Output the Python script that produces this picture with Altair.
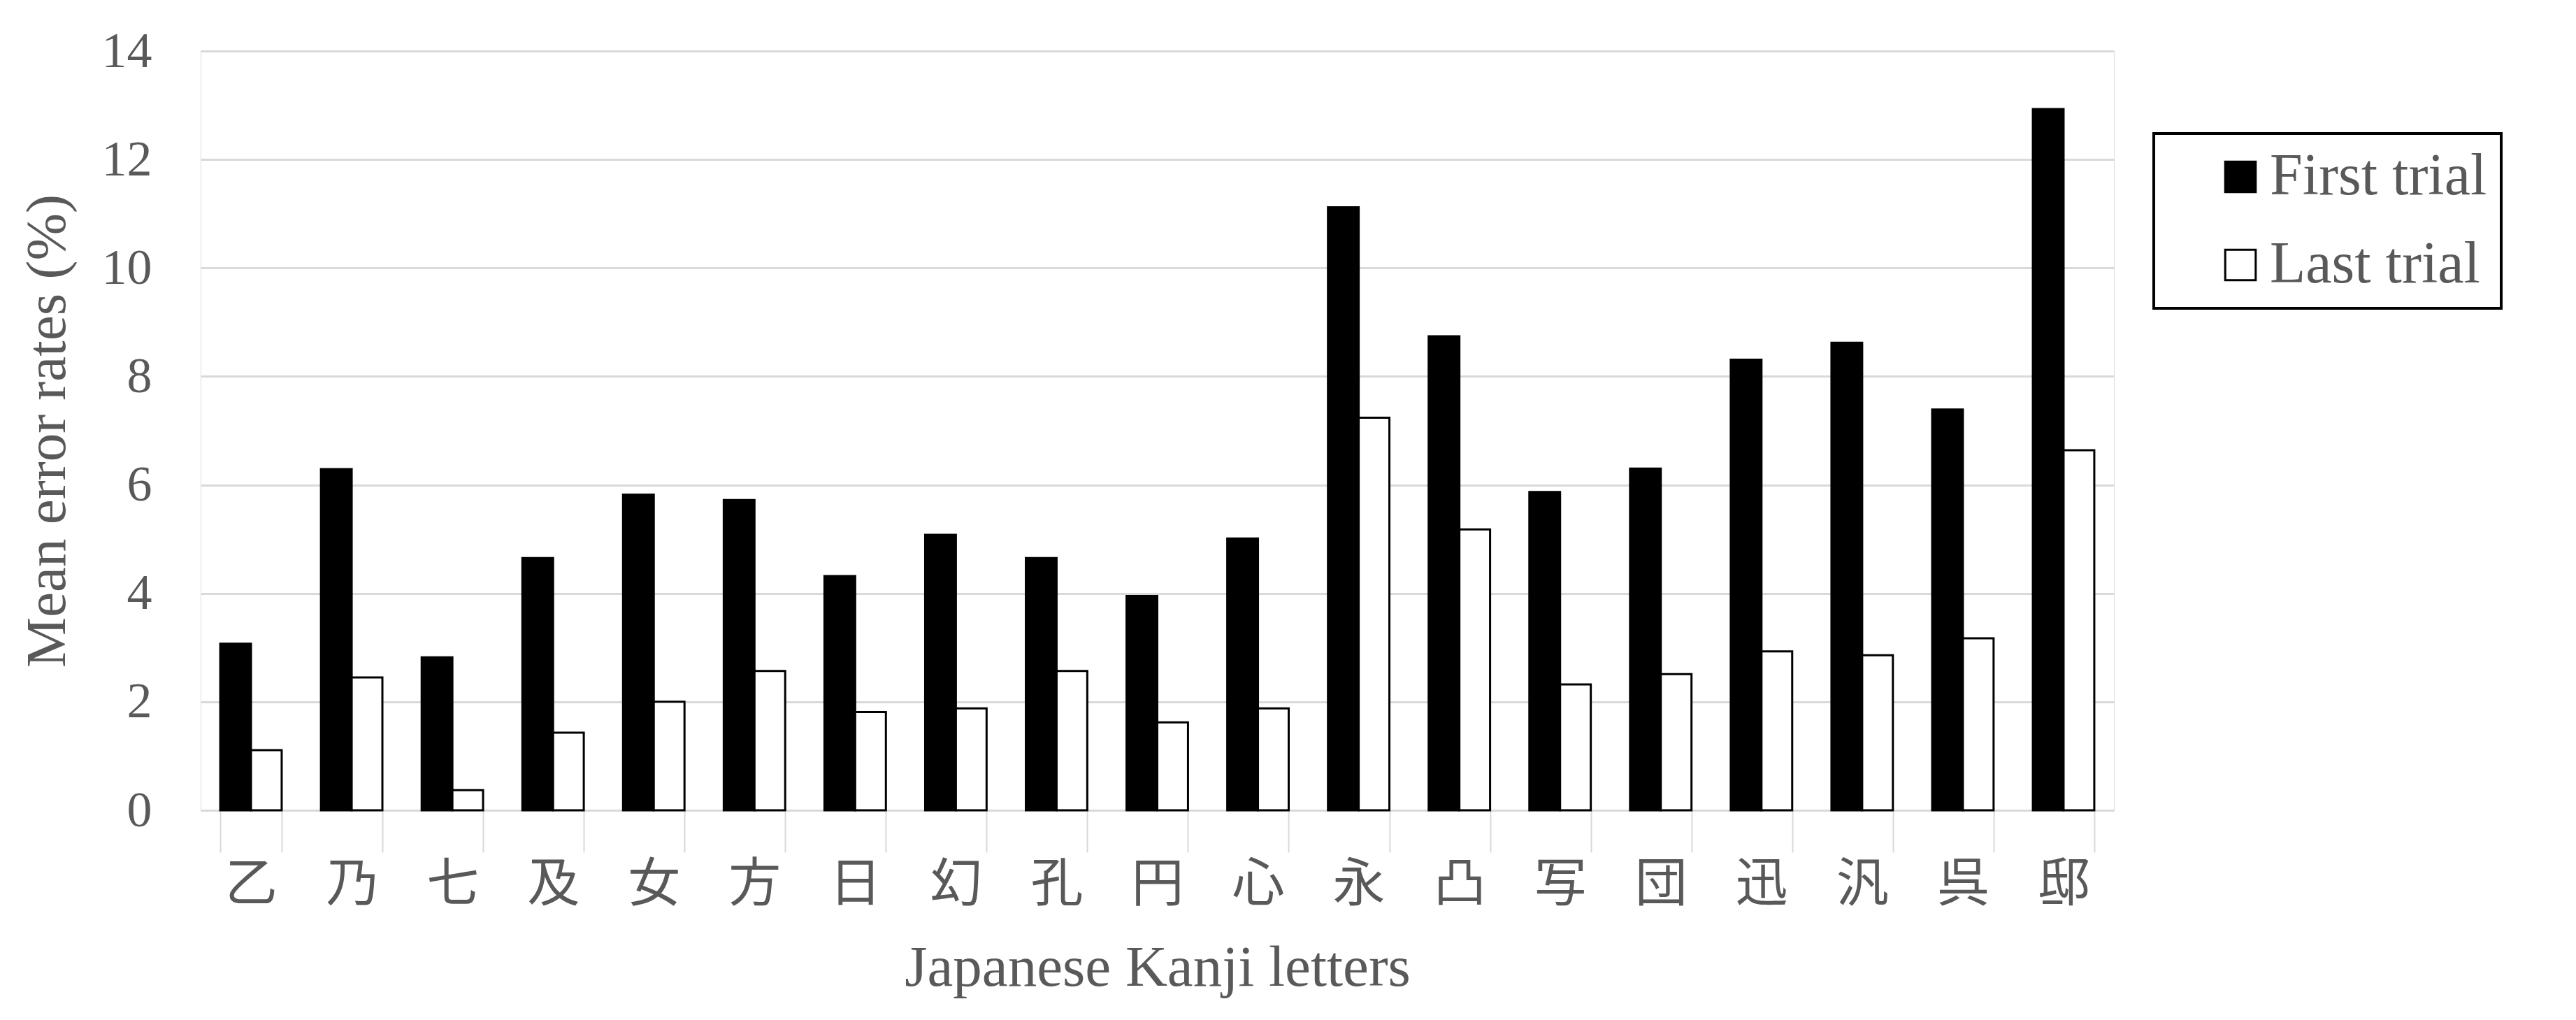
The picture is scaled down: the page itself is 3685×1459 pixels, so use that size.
import altair as alt
import pandas as pd

kanji = ["乙", "乃", "七", "及", "女", "方", "日", "幻", "孔", "円",
         "心", "永", "凸", "写", "団", "迅", "汎", "呉", "邸"]
first_trial = [3.07, 6.29, 2.82, 4.65, 5.82, 5.72, 4.32, 5.08, 4.65, 3.95,
               5.01, 11.12, 8.74, 5.87, 6.30, 8.31, 8.62, 7.39, 12.93]
last_trial = [1.11, 2.45, 0.37, 1.43, 2.00, 2.57, 1.81, 1.88, 2.57, 1.62,
              1.88, 7.24, 5.18, 2.32, 2.51, 2.93, 2.86, 3.17, 6.64]
series = ["First trial", "Last trial"]
y_ticks = [0, 2, 4, 6, 8, 10, 12, 14]

rows = []
for k, f, l in zip(kanji, first_trial, last_trial):
    rows.append({"letter": k, "trial": series[0], "rate": f})
    rows.append({"letter": k, "trial": series[1], "rate": l})
df = pd.DataFrame(rows)

TEXT = "#595959"
GRID = "#d9d9d9"
SERIF = "Liberation Serif"

chart = alt.Chart(df).mark_bar(stroke="black", strokeWidth=3).encode(
    x=alt.X(
        "letter:N",
        sort=kanji,
        scale=alt.Scale(paddingInner=0.39, paddingOuter=0.195),
        axis=alt.Axis(
            title="Japanese Kanji letters",
            labelAngle=0,
            labelFont="Noto Sans CJK JP",
            labelFontSize=75,
            labelColor=TEXT,
            labelPadding=10,
            tickBand="extent",
            tickSize=60,
            tickColor=GRID,
            tickWidth=2,
            domainColor=GRID,
            domainWidth=3,
            grid=False,
            titleFont=SERIF,
            titleFontSize=83,
            titleFontWeight="normal",
            titleColor=TEXT,
            titlePadding=40,
        ),
    ),
    xOffset=alt.XOffset("trial:N", sort=series,
                        scale=alt.Scale(paddingInner=0, paddingOuter=0)),
    y=alt.Y(
        "rate:Q",
        scale=alt.Scale(domain=[0, 14], nice=False),
        axis=alt.Axis(
            title="Mean error rates (%)",
            values=y_ticks,
            grid=True,
            gridColor=GRID,
            gridWidth=3,
            domain=False,
            ticks=False,
            labelFont=SERIF,
            labelFontSize=72,
            labelColor=TEXT,
            labelPadding=70,
            titleFont=SERIF,
            titleFontSize=81,
            titleFontWeight="normal",
            titleColor=TEXT,
            titlePadding=36,
        ),
    ),
    color=alt.Color(
        "trial:N",
        scale=alt.Scale(domain=series, range=["black", "white"]),
        legend=alt.Legend(
            title=None,
            orient="none",
            legendX=2794,
            legendY=118,
            padding=20,
            strokeColor="black",
            fillColor="white",
            symbolType="square",
            symbolSize=1900,
            symbolStrokeColor="black",
            symbolStrokeWidth=3,
            symbolOffset=62,
            labelFont=SERIF,
            labelFontSize=84,
            labelColor=TEXT,
            labelOffset=0,
            labelLimit=800,
            rowPadding=42,
        ),
    ),
).properties(
    width=2737,
    height=1086,
    padding={"left": 279, "top": 65, "right": 640, "bottom": 290},
    autosize=alt.AutoSizeParams(type="none"),
).configure_view(strokeWidth=0).configure(background="white").configure_legend(strokeWidth=4)

chart.save("out.html", embed_options={"renderer": "svg", "actions": False})
